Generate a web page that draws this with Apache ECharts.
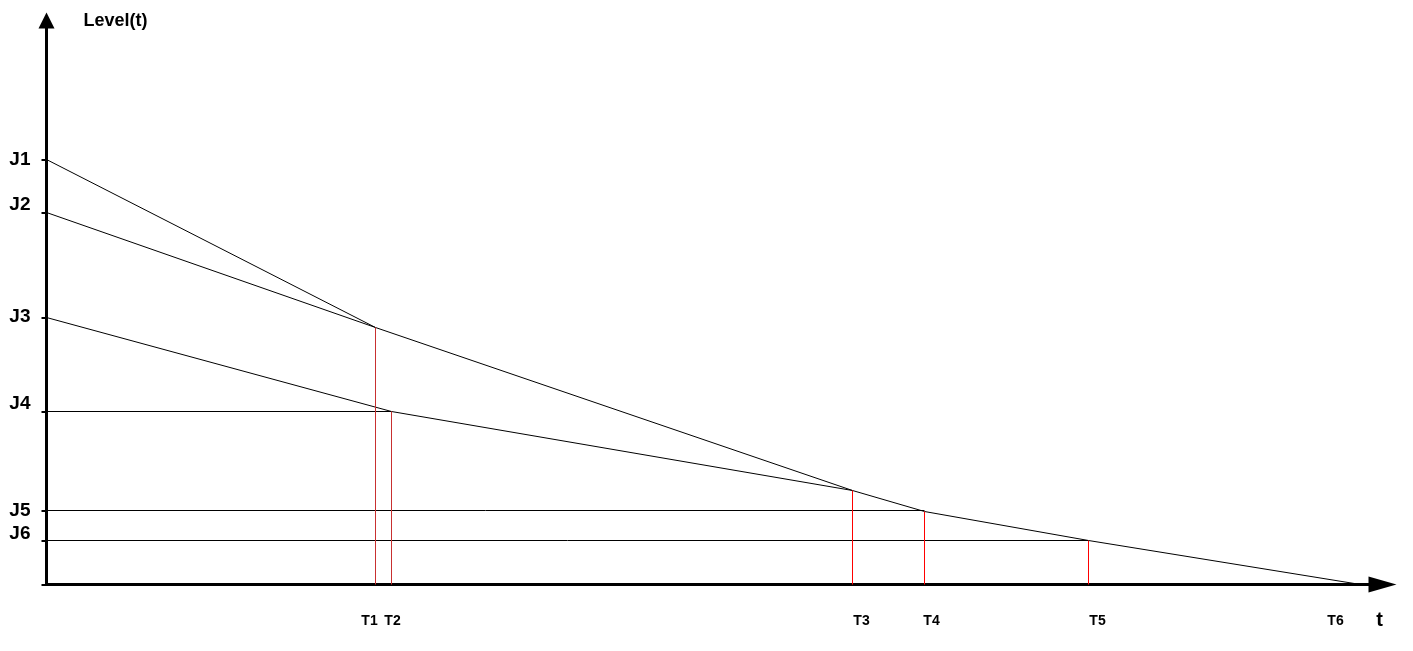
<!DOCTYPE html>
<html><head><meta charset="utf-8">
<script src="https://cdn.jsdelivr.net/npm/echarts@6/dist/echarts.min.js"></script>
<style>html,body{margin:0;padding:0;background:#fff}#c{width:1413px;height:651px}</style>
</head><body><div id="c"></div>
<script>
// ---- data ----
const levelNames = ['J1', 'J2', 'J3', 'J4', 'J5', 'J6'];
const levelValues = [425, 372, 267, 173, 74, 44];
const timeNames = ['T1', 'T2', 'T3', 'T4', 'T5', 'T6'];
const timeValues = [329, 345, 806, 878, 1042, 1314];
const levelAtTime = [257, 173, 94, 73, 44, 0]; // curve level reached at each Ti

// ---- styles ----
const F = 'Liberation Sans, Arial, sans-serif';
const yLabelShift = { J1: 0, J2: -8, J3: -1, J4: -8, J5: 0, J6: -7 };
const xLabelShift = { T1: -6, T2: 1, T3: 9, T4: 7, T5: 9, T6: -25 };

const pt = (ti) => [timeValues[ti], levelAtTime[ti]];
const lv = (li) => [0, levelValues[li]];

const series = [];
function seg(data, color, width) {
  series.push({ type: 'line', data, symbol: 'none', silent: true, animation: false,
    lineStyle: { color, width }, z: 3 });
}
// envelope: J2 -> T1 -> T3 -> T4 -> T5 -> T6
seg([lv(1), pt(0), pt(2), pt(3), pt(4), pt(5)], '#000', 1);
// J1 -> T1
seg([lv(0), pt(0)], '#000', 1);
// J3 -> T2 -> T3
seg([lv(2), pt(1), pt(2)], '#000', 1);
// horizontal level lines
seg([lv(3), [timeValues[1], levelValues[3]]], '#000', 1);
seg([lv(4), [timeValues[3], levelValues[4]]], '#000', 1);
seg([lv(5), [timeValues[4], levelValues[5]]], '#000', 1);
// vertical time lines
for (let i = 0; i < 5; i++) {
  seg([[timeValues[i], 0], pt(i)], i < 2 ? '#c83030' : '#ff0000', 1);
}

const yRich = {}, xRich = {};
levelNames.forEach(n => {
  const s = yLabelShift[n];
  yRich[n] = { fontFamily: F, fontWeight: 'bold', fontSize: 19, color: '#000',
    padding: s < 0 ? [0, 0, -2 * s, 0] : [2 * s, 0, 0, 0] };
});
timeNames.forEach(n => {
  const s = xLabelShift[n];
  xRich[n] = { fontFamily: F, fontWeight: 'bold', fontSize: 14, color: '#000',
    padding: s > 0 ? [0, 0, 0, 2 * s] : [0, -2 * s, 0, 0] };
});

const chart = echarts.init(document.getElementById('c'), null, { renderer: 'canvas' });
chart.setOption({
  animation: false,
  backgroundColor: '#fff',
  grid: { left: 46.5, right: 30.5, top: 20.5, bottom: 66.5 },
  xAxis: {
    type: 'value', min: 0, max: 1336,
    name: 't', nameLocation: 'end', nameGap: -3,
    nameTextStyle: { fontFamily: F, fontWeight: 'bold', fontSize: 20, color: '#000',
      align: 'center', verticalAlign: 'top', padding: [26, 0, 0, 0] },
    axisLine: { show: true, onZero: false, symbol: ['none', 'triangle'], symbolSize: [16, 28],
      lineStyle: { color: '#000', width: 3 } },
    axisTick: { show: false },
    splitLine: { show: false },
    axisLabel: { customValues: timeValues, margin: 30, rich: xRich,
      formatter: (v) => { const i = timeValues.indexOf(v); return i >= 0 ? '{' + timeNames[i] + '|' + timeNames[i] + '}' : ''; } }
  },
  yAxis: {
    type: 'value', min: 0, max: 564,
    name: 'Level(t)', nameLocation: 'end', nameGap: -1,
    nameTextStyle: { fontFamily: F, fontWeight: 'bold', fontSize: 18, color: '#000',
      align: 'left', verticalAlign: 'middle', padding: [0, 0, 0, 37] },
    axisLine: { show: true, onZero: false, symbol: ['none', 'triangle'], symbolSize: [16, 16],
      lineStyle: { color: '#000', width: 3 } },
    axisTick: { show: true, customValues: [0].concat(levelValues), length: 5,
      lineStyle: { color: '#000', width: 2 } },
    splitLine: { show: false },
    axisLabel: { customValues: levelValues, margin: 16, rich: yRich,
      formatter: (v) => { const i = levelValues.indexOf(v); return i >= 0 ? '{' + levelNames[i] + '|' + levelNames[i] + '}' : ''; } }
  },
  series
});
</script>
</body></html>
